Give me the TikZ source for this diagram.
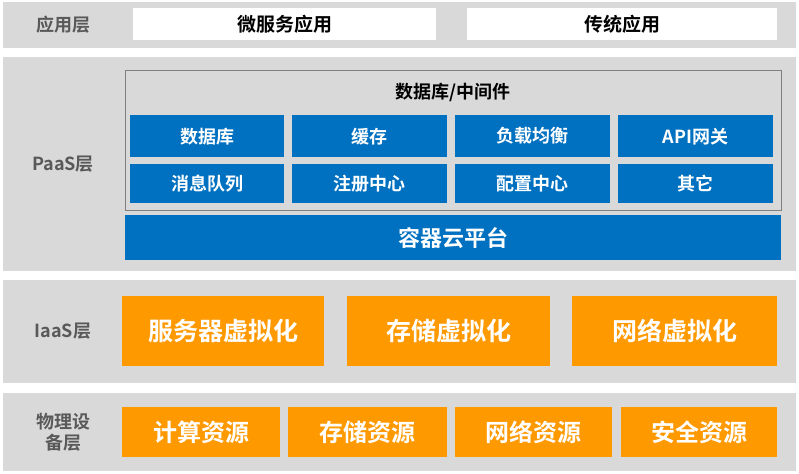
\documentclass[tikz,border=0pt]{standalone}
\usepackage{fontspec}
\setmainfont{Noto Sans CJK SC}[BoldFont={* Bold}]
\definecolor{band}{HTML}{D9D9D9}
\definecolor{blu}{HTML}{0070C0}
\definecolor{org}{HTML}{FF9900}
\definecolor{lbl}{HTML}{595959}
\begin{document}
\begin{tikzpicture}[x=1pt,y=-1pt,
  bandbox/.style={fill=band,draw=none},
  lab/.style={text=lbl,font=\bfseries\fontsize{18}{21}\selectfont,align=center},
  wbox/.style={fill=white,draw=none,font=\bfseries\fontsize{19}{20}\selectfont},
  bbox/.style={fill=blu,draw=none,text=white,font=\bfseries\fontsize{18}{20}\selectfont},
  obox/.style={fill=org,draw=none,text=white,font=\bfseries\fontsize{25}{27}\selectfont}]
\useasboundingbox (0,0) rectangle (799,473);
\fill[white] (0,0) rectangle (799,473);
\newcommand\rbox[6]{\node[#1,minimum width=#4-#2,minimum height=#5-#3,inner sep=0,anchor=north west] (#6) at (#2,#3) {};}
% bands
\rbox{bandbox}{3}{2}{796}{48}{b1}
\rbox{bandbox}{3}{57}{796}{271}{b2}
\rbox{bandbox}{3}{280}{796}{383}{b3}
\rbox{bandbox}{3}{393}{796}{471}{b4}
\node[lab] (l1) at (63,25) {应用层};
\node[lab] (l2) at (63,164) {PaaS层};
\node[lab] (l3) at (63,331) {IaaS层};
\node[lab] (l4) at (63,432) {物理设\\备层};
% apps
\node[wbox,minimum width=303,minimum height=32,inner sep=0,anchor=north west] (a1) at (133,8) {微服务应用};
\node[wbox,minimum width=310,minimum height=32,inner sep=0,anchor=north west] (a2) at (467,8) {传统应用};
% middleware
\node[draw=gray,fill=band,minimum width=656,minimum height=140,inner sep=0,anchor=north west] (mw) at (125,70) {};
\node[font=\bfseries\fontsize{18}{20}\selectfont] (mwt) at (453,92) {数据库/中间件};
\foreach \x/\w/\t/\n in {130/154/数据库/p1,292/155/缓存/p2,455/155/负载均衡/p3,618/155/API网关/p4}
  \node[bbox,minimum width=\w,minimum height=42,inner sep=0,anchor=north west] (\n) at (\x,115) {\t};
\foreach \x/\w/\t/\n in {130/154/消息队列/q1,292/155/注册中心/q2,455/155/配置中心/q3,618/155/其它/q4}
  \node[bbox,minimum width=\w,minimum height=39,inner sep=0,anchor=north west] (\n) at (\x,164) {\t};
\node[bbox,font=\bfseries\fontsize{22}{24}\selectfont,minimum width=656,minimum height=45,inner sep=0,anchor=north west] (cc) at (125,215) {容器云平台};
% IaaS
\foreach \x/\w/\t/\n in {122/202/服务器虚拟化/i1,347/203/存储虚拟化/i2,572/205/网络虚拟化/i3}
  \node[obox,minimum width=\w,minimum height=70,inner sep=0,anchor=north west] (\n) at (\x,296) {\t};
% physical
\foreach \x/\w/\t/\n in {122/158/计算资源/d1,288/159/存储资源/d2,455/157/网络资源/d3,621/156/安全资源/d4}
  \node[obox,font=\bfseries\fontsize{24}{26}\selectfont,minimum width=\w,minimum height=50,inner sep=0,anchor=north west] (\n) at (\x,407) {\t};
\end{tikzpicture}
\end{document}
